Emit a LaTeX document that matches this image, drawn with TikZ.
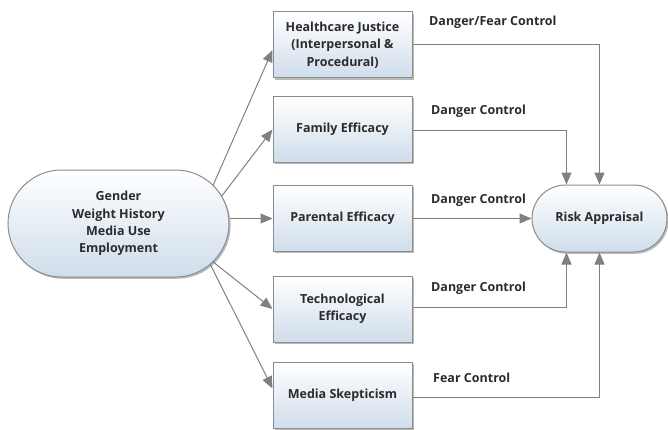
\documentclass[tikz,border=0pt]{standalone}
\usepackage{fontspec}
\setmainfont{Open Sans}
\usetikzlibrary{shapes.misc,shadows,arrows.meta,calc}
\definecolor{linegray}{HTML}{808080}
\definecolor{bordergray}{HTML}{8C8C8C}
\definecolor{boxbottom}{HTML}{CFDDEB}
\definecolor{txt}{HTML}{2B2B2B}
\tikzset{
  shade/.style={top color=white, bottom color=boxbottom, draw=bordergray, line width=1pt,
    drop shadow={shadow xshift=1.6pt, shadow yshift=-1.8pt, opacity=0.45, fill=black!60},
    text=txt, font=\bfseries\fontsize{12.5}{17.3}\selectfont, align=center, inner sep=0pt},
  boxnode/.style={shade, rectangle, minimum width=139pt, minimum height=66pt},
  pill/.style={shade, rounded rectangle, inner sep=0pt},
  arr/.style={draw=linegray, line width=1pt, -{Triangle[length=12pt,width=10pt]}},
  lbl/.style={anchor=west, text=txt, font=\bfseries\fontsize{12.5}{15}\selectfont, inner sep=0pt}
}
\begin{document}
\begin{tikzpicture}[x=1pt,y=1pt]
\useasboundingbox (0,0) rectangle (668,429);
\node[pill, minimum width=221pt, minimum height=107pt] (g) at (118.5,205.5)
  {Gender\\Weight History\\Media Use\\Employment};
\node[boxnode] (hj) at (342.5,384) {Healthcare Justice\\(Interpersonal \&\\Procedural)};
\node[boxnode] (fe) at (342.5,299.5) {Family Efficacy};
\node[boxnode] (pe) at (342.5,210.5) {Parental Efficacy};
\node[boxnode] (te) at (342.5,120) {Technological\\Efficacy};
\node[boxnode] (ms) at (342.5,33.5) {Media Skepticism};
\node[pill, minimum width=135pt, minimum height=67pt] (ra) at (599.5,210.5) {Risk Appraisal};

% cap centre of the left pill
\coordinate (gc) at ($(g.east)+(-53.5,0)$);
\coordinate (s1) at ($(gc)+(46:53.5)$);
\coordinate (s2) at ($(gc)+(31:53.5)$);
\coordinate (s4) at ($(gc)+(-46:53.5)$);
\coordinate (s5) at ($(gc)+(-50:53.5)$);
\draw[arr] (s1) -- ($(hj.west)+(0,-5)$);
\draw[arr] (s2) -- (fe.west);
\draw[arr] (pe.west -| g.east) -- (pe.west);
\draw[arr] (s4) -- (te.west);
\draw[arr] (s5) -- ($(ms.west)+(0,7)$);

% into risk appraisal
\coordinate (rin) at ($(ra.north)+(-33,0)$);
\coordinate (rout) at ($(ra.south)+(-33,0)$);
\draw[arr] (hj.east) -| (ra.north);
\draw[arr] ($(fe.east)+(0,-1.5)$) -| (rin);
\draw[arr] (pe.east) -- (ra.west);
\draw[arr] ($(te.east)+(0,2)$) -| (rout);
\draw[arr] ($(ms.east)+(0,-1.5)$) -| (ra.south);

\node[lbl] (l1) at (429,407) {Danger/Fear Control};
\node[lbl] (l2) at (431,318) {Danger Control};
\node[lbl] (l3) at (431,229) {Danger Control};
\node[lbl] (l4) at (431,141) {Danger Control};
\node[lbl] (l5) at (433,51) {Fear Control};
\end{tikzpicture}
\end{document}
